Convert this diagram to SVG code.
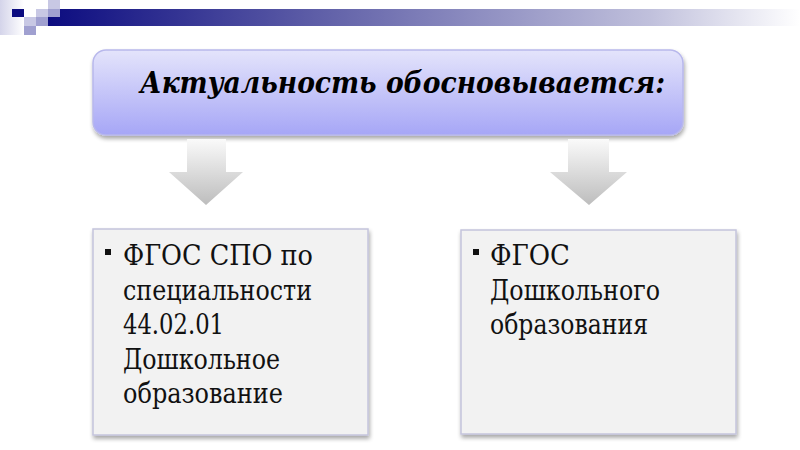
<svg xmlns="http://www.w3.org/2000/svg" width="800" height="450" viewBox="0 0 800 450">
<style>
.body{font-family:'DejaVu Serif','Liberation Serif',serif;font-size:27px;fill:#111}
.title{font-family:'DejaVu Serif','Liberation Serif',serif;font-size:30px;font-weight:bold;font-style:italic;fill:#000}
.box{fill:#f2f2f2;stroke:#c4c4dc;stroke-width:1.5}
.arrow{fill:url(#arrowGrad)}
.bullet{fill:#111}
</style>
<defs>
<linearGradient id="bandGrad" x1="0" y1="0" x2="1" y2="0">
<stop offset="0" stop-color="#0c0c80"/>
<stop offset="0.4" stop-color="#6868ac"/>
<stop offset="0.8" stop-color="#c0c0dc"/>
<stop offset="1" stop-color="#ffffff"/>
</linearGradient>
<linearGradient id="cornerGrad" x1="0" y1="0" x2="1" y2="0">
<stop offset="0" stop-color="#d4d4ea"/>
<stop offset="1" stop-color="#ffffff"/>
</linearGradient>
<linearGradient id="titleGrad" x1="0" y1="0" x2="0" y2="1">
<stop offset="0" stop-color="#e4e4fb"/>
<stop offset="1" stop-color="#a6a6f6"/>
</linearGradient>
<linearGradient id="arrowGrad" x1="0" y1="0" x2="0" y2="1">
<stop offset="0" stop-color="#fafafa"/>
<stop offset="1" stop-color="#bdbdbd"/>
</linearGradient>
<filter id="shadow" x="-5%" y="-10%" width="110%" height="130%">
<feGaussianBlur in="SourceAlpha" stdDeviation="2"/>
<feOffset dx="1" dy="3" result="b"/>
<feComponentTransfer><feFuncA type="linear" slope="0.35"/></feComponentTransfer>
<feMerge><feMergeNode/><feMergeNode in="SourceGraphic"/></feMerge>
</filter>
</defs>
<rect width="800" height="450" fill="#ffffff"/>
<g id="header">
<rect x="0" y="0" width="24" height="35" fill="url(#cornerGrad)"/>
<rect x="48" y="9" width="752" height="17" fill="url(#bandGrad)"/>
<rect x="12" y="9" width="12" height="8" fill="#0c0c80"/>
<rect x="48" y="0" width="12" height="9" fill="#c8c8e4"/>
<rect x="36" y="9" width="12" height="8" fill="#c8c8e4"/>
<rect x="24" y="17" width="12" height="9" fill="#c8c8e4"/>
<rect x="48" y="9" width="12" height="8" fill="#a0a0d0"/>
<rect x="36" y="17" width="12" height="9" fill="#a0a0d0"/>
<rect x="24" y="26" width="12" height="9" fill="#a0a0d0"/>
</g>
<g id="title-node">
<rect x="93" y="50" width="590" height="85" rx="13" fill="url(#titleGrad)" stroke="#b8b8ec" stroke-width="1.5" filter="url(#shadow)"/>
<text class="title" x="140" y="93" textLength="525" lengthAdjust="spacingAndGlyphs">Актуальность обосновывается:</text>
</g>
<g id="connectors">
<path class="arrow" d="M187 139 H226 V172 H243 L206 205 L169 172 H187 Z"/>
<path class="arrow" d="M568 139 H609 V172 H627 L589 205 L550 172 H568 Z"/>
</g>
<g id="left-node">
<rect class="box" x="93" y="229" width="275" height="206" filter="url(#shadow)"/>
<rect class="bullet" x="105" y="249" width="6" height="6"/>
<text class="body" x="123" y="265" textLength="190" lengthAdjust="spacingAndGlyphs">ФГОС СПО по</text>
<text class="body" x="123" y="299.5" textLength="189" lengthAdjust="spacingAndGlyphs">специальности</text>
<text class="body" x="123" y="334" textLength="101" lengthAdjust="spacingAndGlyphs">44.02.01</text>
<text class="body" x="123" y="368.5" textLength="157" lengthAdjust="spacingAndGlyphs">Дошкольное</text>
<text class="body" x="123" y="403" textLength="160" lengthAdjust="spacingAndGlyphs">образование</text>
</g>
<g id="right-node">
<rect class="box" x="461" y="230" width="275" height="204" stroke="#bcbce6" filter="url(#shadow)"/>
<rect class="bullet" x="473" y="249" width="6" height="6"/>
<text class="body" x="490" y="265" textLength="80" lengthAdjust="spacingAndGlyphs">ФГОС</text>
<text class="body" x="490" y="299.5" textLength="170" lengthAdjust="spacingAndGlyphs">Дошкольного</text>
<text class="body" x="490" y="334" textLength="158" lengthAdjust="spacingAndGlyphs">образования</text>
</g>
</svg>
